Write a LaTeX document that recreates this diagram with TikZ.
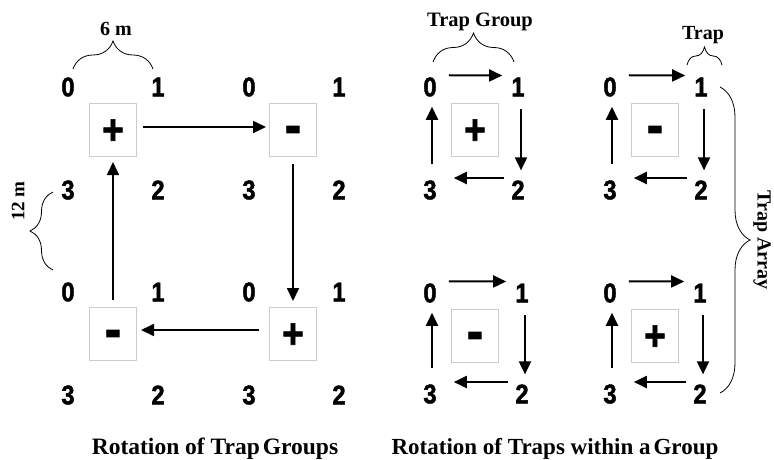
\documentclass[tikz,border=0pt]{standalone}
\usepackage{fontspec}
\setmainfont{Liberation Serif}
\newfontfamily\digf{Liberation Sans}[FakeStretch=0.88,FakeBold=1.6]
\usetikzlibrary{arrows.meta,decorations.pathreplacing}
\newcommand\trapgrp[6]{%
  \node[dig] (#1-0) at (#2,#3) {0};
  \node[dig] (#1-1) at (#2+#4,#3) {1};
  \node[dig] (#1-3) at (#2,#3+#5) {3};
  \node[dig] (#1-2) at (#2+#4,#3+#5) {2};
  \node[sgnbox] (#1-b) at (#2+45,#3+43) {};
  \node[#6] (#1-s) at ([yshift=-14pt]#1-b.center) {\csname sg#6\endcsname};
  \draw[arrb] ([xshift=12pt,yshift=2pt]#1-0.north east) -- ([xshift=-9pt,yshift=2pt]#1-1.north west);
  \draw[arrb] ([xshift=3pt,yshift=-13pt]#1-1.south) -- ([xshift=3pt,yshift=10pt]#1-2.north);
  \draw[arrb] ([xshift=-7pt,yshift=12pt]#1-2.west) -- ([xshift=17pt,yshift=12pt]#1-3.east);
  \draw[arrb] ([xshift=2pt,yshift=16pt]#1-3.north) -- ([xshift=2pt,yshift=-10pt]#1-0.south);
}
\newcommand\sgplus{+}
\newcommand\sgminus{-}
\begin{document}
\begin{tikzpicture}[x=1pt,y=-1pt,
  dig/.style={inner sep=0pt,font=\digf\bfseries\fontsize{27}{27}\selectfont},
  sgnbox/.style={draw=black!20,line width=1pt,minimum width=47pt,minimum height=53pt,inner sep=0pt},
  plus/.style={inner sep=0pt,anchor=base,font=\digf\bfseries\fontsize{42}{42}\selectfont},
  minus/.style={inner sep=0pt,anchor=base,font=\digf\bfseries\fontsize{56}{56}\selectfont},
  arr/.style={line width=1.7pt,-{Triangle[length=13pt,width=12pt]}},
  arrb/.style={line width=2pt,-{Triangle[length=13pt,width=12pt]}},
  brc/.style={decorate,decoration={brace,amplitude=#1},line width=0.8pt},
  lbl/.style={inner sep=0pt,font=\bfseries\fontsize{#1}{#1}\selectfont},
]
\useasboundingbox (0,0) rectangle (774,459);

% ---- left panel: rotation of trap groups ----
\foreach \nm/\x/\y/\t in {p0/68/87/0, p1/158/87/1, p3/68/190/3, p2/158/190/2,
                          q0/249/87/0, q1/339/87/1, q3/249/190/3, q2/339/190/2,
                          r0/68/292/0, r1/158/292/1, r3/68/395/3, r2/158/395/2,
                          s0/249/292/0, s1/339/292/1, s3/249/395/3, s2/339/395/2}
  \node[dig] (\nm) at (\x,\y) {\t};
\node[sgnbox] (ba) at (113,130) {};
\node[sgnbox] (bb) at (293,130) {};
\node[sgnbox] (bc) at (113,334) {};
\node[sgnbox] (bd) at (293,334) {};
\node[plus]  (sa) at ([yshift=-14pt]ba.center) {+};
\node[minus] (sb) at ([yshift=-14pt]bb.center) {-};
\node[minus] (sc) at ([yshift=-14pt]bc.center) {-};
\node[plus]  (sd) at ([yshift=-14pt]bd.center) {+};
\draw[arr] ([xshift=6pt,yshift=3pt]ba.east) -- ([xshift=-3pt,yshift=3pt]bb.west);
\draw[arr] ([yshift=-7pt]bb.south) -- ([yshift=6pt]bd.north);
\draw[arr] ([xshift=-10pt,yshift=4pt]bd.west) -- ([xshift=4pt,yshift=4pt]bc.east);
\draw[arr] ([yshift=7pt]bc.north) -- ([yshift=-5pt]ba.south);

% braces left
\coordinate (m6a) at (73,69);
\coordinate (m6b) at (153,69);
\draw[brc=28] (m6a) -- (m6b);
\node[lbl=20,anchor=base] (m6) at (116,35) {6 m};
\coordinate (m12a) at (53,270);
\coordinate (m12b) at (53,192);
\draw[brc=23] (m12a) -- (m12b);
\node[lbl=19,rotate=90] (m12) at (18,201) {12 m};

\node[lbl=23.5,anchor=base] (cap1) at (215,454) {Rotation of Trap\hspace{3pt}Groups};

% ---- right panel: rotation of traps within a group ----
\trapgrp{g1}{430}{87}{88}{103}{plus}
\trapgrp{g2}{610}{87}{91}{103}{minus}
\trapgrp{g3}{430}{293}{92}{101}{minus}
\trapgrp{g4}{610}{293}{90}{101}{plus}

\coordinate (tga) at (433,62);
\coordinate (tgb) at (514,62);
\draw[brc=29] (tga) -- (tgb);
\node[lbl=20.5,anchor=base] (tg) at (480,26) {Trap Group};
\coordinate (tpa) at (687,65);
\coordinate (tpb) at (722,65);
\draw[brc=18] (tpa) -- (tpb);
\node[lbl=20,anchor=base] (tp) at (703,39) {Trap};
\coordinate (taa) at (720,87);
\coordinate (tab) at (720,393);
\draw[brc=30] (taa) -- (tab);
\node[lbl=20,rotate=-90] (ta) at (762,240) {Trap Array};

\node[lbl=23,anchor=base] (cap2) at (555,454) {Rotation of Traps within a\hspace{3pt}Group};
\end{tikzpicture}
\end{document}
